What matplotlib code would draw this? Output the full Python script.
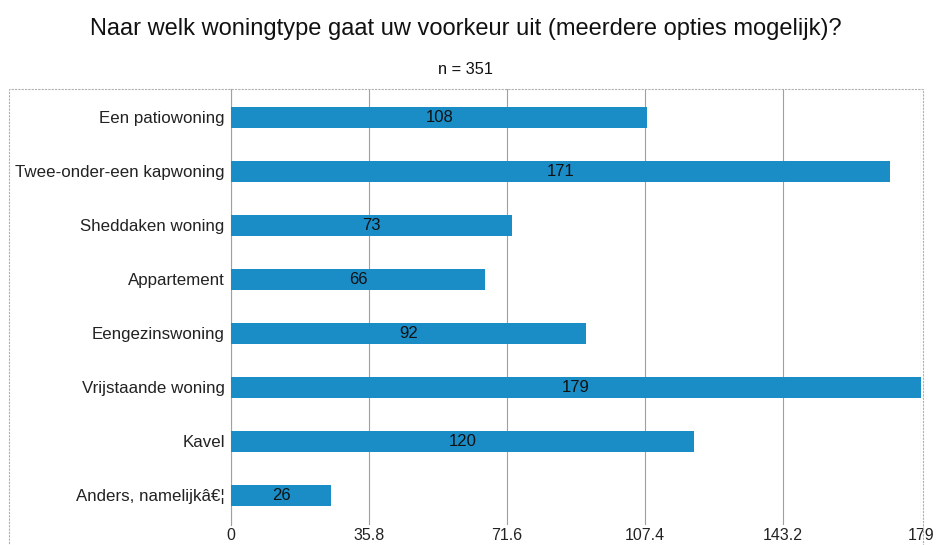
import matplotlib.pyplot as plt
from matplotlib.patches import Rectangle
import numpy as np

plt.rcParams['font.family'] = ['Liberation Sans', 'DejaVu Sans']

categories = ["Een patiowoning", "Twee-onder-een kapwoning", "Sheddaken woning",
              "Appartement", "Eengezinswoning", "Vrijstaande woning", "Kavel",
              "Anders, namelijkâ€¦"]
counts = [108, 171, 73, 66, 92, 179, 120, 26]
xticks = [0, 35.8, 71.6, 107.4, 143.2, 179]
xtick_labels = ["0", "35.8", "71.6", "107.4", "143.2", "179"]

fig = plt.figure(figsize=(9.39, 5.45), dpi=100)
W, H = 939, 545
ax = fig.add_axes([231 / W, 1 - 525 / H, (921 - 231) / W, (525 - 89) / H])

y = np.arange(len(categories))
ax.barh(y, counts, height=0.39, color="#1a8cc6", zorder=3)
for yi, v in zip(y, counts):
    ax.text(v / 2, yi, str(v), ha="center", va="center", fontsize=12, color="#111111", zorder=4)

ax.set_ylim(len(categories) - 0.45, -0.52)
ax.set_xlim(0, 179)
ax.set_yticks(y)
ax.set_yticklabels(categories, fontsize=12.2, color="#222222")
ax.set_xticks(xticks)
ax.set_xticklabels(xtick_labels, fontsize=11.5, color="#222222")
ax.tick_params(axis="y", length=0, pad=4.5)
ax.tick_params(axis="x", length=0, pad=2)
ax.xaxis.grid(True, color="#a0a0a0", linewidth=0.8, zorder=0)
for s in ["top", "right", "bottom"]:
    ax.spines[s].set_visible(False)
ax.spines["left"].set_color("#a0a0a0")
ax.spines["left"].set_linewidth(0.8)

# outer frame around labels and plot area
fig.patches.append(Rectangle((9 / W, -0.05), (923 - 9) / W, 1.05 - 89 / H,
                             transform=fig.transFigure, fill=False,
                             edgecolor="#b0b0b0", linewidth=0.8, linestyle=(0, (2, 1))))

fig.text(0.496, 1 - 29 / H, "Naar welk woningtype gaat uw voorkeur uit (meerdere opties mogelijk)?",
         ha="center", va="center", fontsize=17, color="#111111")
fig.text(0.496, 1 - 70 / H, "n = 351", ha="center", va="center", fontsize=11.8, color="#111111")

fig.savefig("out.png", dpi=100)
